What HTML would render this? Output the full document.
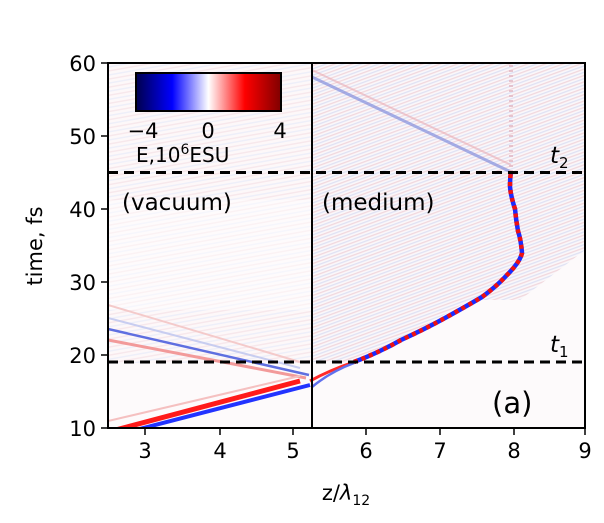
<!DOCTYPE html>
<html><head><style>
body{margin:0;background:#fff;}
svg text{font-family:"DejaVu Sans","Liberation Sans",sans-serif;}
</style></head><body>
<svg width="604" height="518" viewBox="0 0 604 518" xmlns="http://www.w3.org/2000/svg">
<defs>
<linearGradient id="cb" x1="0" x2="1">
<stop offset="0" stop-color="#00004c"/><stop offset="0.25" stop-color="#0000ff"/>
<stop offset="0.5" stop-color="#ffffff"/><stop offset="0.75" stop-color="#ff0000"/>
<stop offset="1" stop-color="#800000"/></linearGradient>
<pattern id="vs" width="8" height="8" patternUnits="userSpaceOnUse" patternTransform="rotate(-10)">
<rect width="8" height="8" fill="#fdf8f9"/><rect y="0" width="8" height="1.5" fill="#f6e4e8"/><rect y="4" width="8" height="1.5" fill="#eaecf8"/></pattern>
<pattern id="ms" width="6" height="6" patternUnits="userSpaceOnUse" patternTransform="rotate(-20)">
<rect width="6" height="6" fill="#faf7fa"/><rect width="6" height="1.3" fill="#f0d4da"/><rect y="3" width="6" height="1.3" fill="#dcdff3"/></pattern>
<clipPath id="ax"><rect x="108" y="63" width="477" height="365"/></clipPath>
</defs>
<g clip-path="url(#ax)">
<rect x="108" y="63" width="477" height="365" fill="#fdfafb"/>
<rect x="108" y="63" width="204" height="300" fill="url(#vs)" opacity="0.8"/>
<polygon points="312,63 585,63 585,250 520,300 470,300 400,340 353,362 312,362" fill="url(#ms)" opacity="0.9"/>
<rect x="108" y="200" width="204" height="110" fill="#fff" opacity="0.45"/>
<path d="M312,77 L511,172" stroke="#6f7fd8" stroke-width="3" opacity="0.6" fill="none"/>
<path d="M312,70 L511,165" stroke="#e8a0a8" stroke-width="2" opacity="0.5" fill="none"/>
<path d="M306,378 L108,340" stroke="#f29a9a" stroke-width="3" fill="none"/>
<path d="M309,375 L108,329" stroke="#5f6fe0" stroke-width="2.5" fill="none"/>
<path d="M300,368 L108,318" stroke="#c8cdf0" stroke-width="2" fill="none"/>
<path d="M300,362 L108,305" stroke="#f4caca" stroke-width="2" fill="none"/>
<path d="M108,432 L300,381" stroke="#ff1a1a" stroke-width="5" fill="none"/>
<path d="M128,432 L310,385" stroke="#2233ff" stroke-width="4" fill="none"/>
<path d="M108,421 L300,376" stroke="#f5c0c0" stroke-width="2" fill="none"/>
<path d="M310,381 Q330,370 354,362" stroke="#ff2a2a" stroke-width="3" fill="none"/>
<path d="M312,387 Q330,372 354,363" stroke="#6070ee" stroke-width="2.5" fill="none"/>
<path d="M354,362 Q380,352 401,340 Q425,329 445,318 Q465,307 482,297 Q497,286 507,275 Q520,262 522,253 Q521,240 518,231 Q516,220 515,209 Q511,197 510,187 Q510,178 511,172" stroke="#1a2bff" stroke-width="4.5" fill="none"/>
<path d="M354,362 Q380,352 401,340 Q425,329 445,318 Q465,307 482,297 Q497,286 507,275 Q520,262 522,253 Q521,240 518,231 Q516,220 515,209 Q511,197 510,187 Q510,178 511,172" stroke="#ee1111" stroke-width="4.5" stroke-dasharray="4 4" fill="none"/>
<path d="M511,172 L511,63" stroke="#e2b8c4" stroke-width="4" stroke-dasharray="2 3" opacity="0.8" fill="none"/>
</g>
<line x1="312" y1="63" x2="312" y2="428" stroke="#000" stroke-width="2"/>
<line x1="108" y1="362" x2="585" y2="362" stroke="#000" stroke-width="3" stroke-dasharray="10 6"/>
<line x1="108" y1="172.5" x2="585" y2="172.5" stroke="#000" stroke-width="3" stroke-dasharray="10 6"/>
<rect x="108" y="63" width="477" height="365" fill="none" stroke="#000" stroke-width="2"/>
<rect x="136" y="73" width="145" height="38" fill="url(#cb)" stroke="#000" stroke-width="2"/>
<text x="143" y="138" font-size="21" text-anchor="middle">−4</text>
<text x="208" y="138" font-size="21" text-anchor="middle">0</text>
<text x="280" y="138" font-size="21" text-anchor="middle">4</text>
<text x="136" y="162" font-size="20">E,10<tspan font-size="14" dy="-8">6</tspan><tspan dy="8">ESU</tspan></text>
<text x="122" y="210" font-size="23">(vacuum)</text>
<text x="322" y="210" font-size="23">(medium)</text>
<text x="492" y="413" font-size="29">(a)</text>
<text x="550" y="163" font-size="23" font-style="italic">t<tspan font-size="15" dy="5" font-style="normal">2</tspan></text>
<text x="550" y="352" font-size="23" font-style="italic">t<tspan font-size="15" dy="5" font-style="normal">1</tspan></text>
<g stroke="#000" stroke-width="1.5">
<line x1="145" y1="428" x2="145" y2="435"/><line x1="220" y1="428" x2="220" y2="435"/>
<line x1="293" y1="428" x2="293" y2="435"/><line x1="366" y1="428" x2="366" y2="435"/>
<line x1="440" y1="428" x2="440" y2="435"/><line x1="514" y1="428" x2="514" y2="435"/>
<line x1="585" y1="428" x2="585" y2="435"/>
<line x1="101" y1="428" x2="108" y2="428"/><line x1="101" y1="355" x2="108" y2="355"/>
<line x1="101" y1="282" x2="108" y2="282"/><line x1="101" y1="209" x2="108" y2="209"/>
<line x1="101" y1="136" x2="108" y2="136"/><line x1="101" y1="63" x2="108" y2="63"/>
</g>
<g font-size="21" text-anchor="middle">
<text x="145" y="458">3</text><text x="220" y="458">4</text><text x="293" y="458">5</text>
<text x="366" y="458">6</text><text x="440" y="458">7</text><text x="514" y="458">8</text><text x="585" y="458">9</text>
</g>
<g font-size="21" text-anchor="end">
<text x="96" y="436">10</text><text x="96" y="363">20</text><text x="96" y="290">30</text>
<text x="96" y="217">40</text><text x="96" y="144">50</text><text x="96" y="71">60</text>
</g>
<text x="346" y="500" font-size="21" text-anchor="middle">z/<tspan font-style="italic">λ</tspan><tspan font-size="14" dy="5">12</tspan></text>
<text transform="translate(42,246) rotate(-90)" font-size="21" text-anchor="middle">time, fs</text>
</svg>
</body></html>
